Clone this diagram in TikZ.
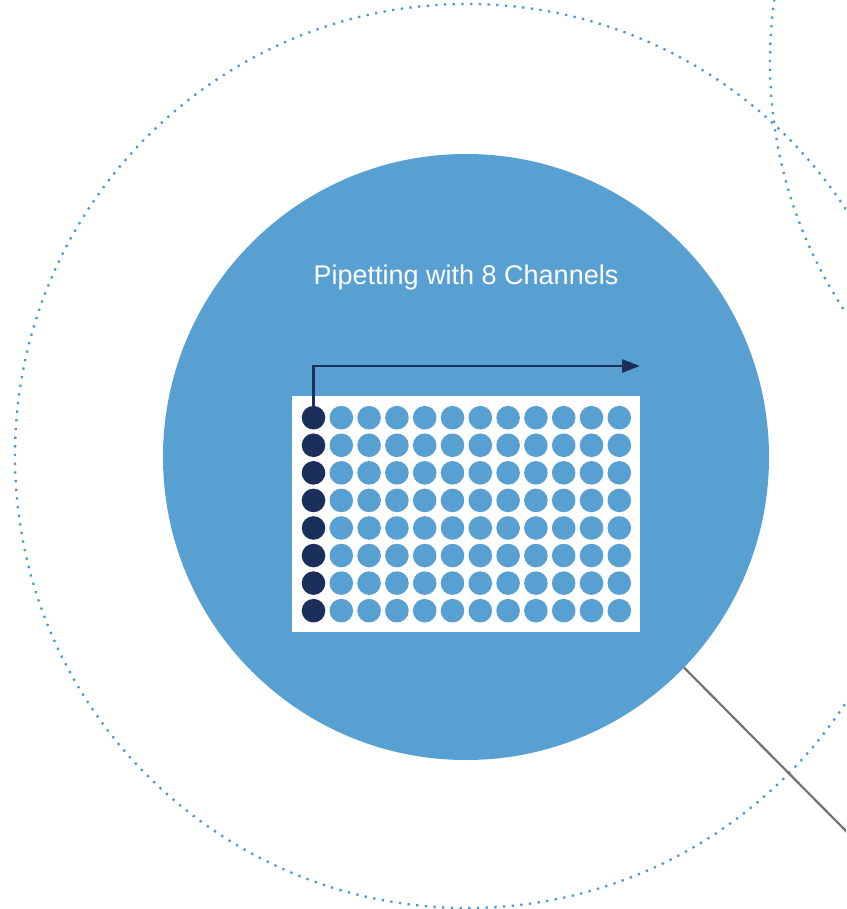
\documentclass[tikz,border=0pt]{standalone}
\usepackage{fontspec}
\setmainfont{Liberation Sans}
\usetikzlibrary{arrows.meta}
\definecolor{discblue}{HTML}{589FD2}
\definecolor{navy}{HTML}{1B2F5C}
\definecolor{dotblue}{HTML}{4C98D6}
\definecolor{linegray}{HTML}{727272}
\tikzset{
  dotring/.style={draw=dotblue, line width=2.3pt, dash pattern=on 2.3pt off 6.4pt},
  disc/.style={circle, fill=discblue, minimum size=606pt, inner sep=0pt},
  plate/.style={fill=white, draw=none},
  well/.style={circle, fill=discblue, minimum size=23.6pt, inner sep=0pt},
  wellon/.style={well, fill=navy},
  pathline/.style={draw=navy, line width=2.7pt, -{Triangle[length=18pt,width=13pt]}},
  leader/.style={draw=linegray, line width=2.2pt},
  title/.style={text=white, font=\fontsize{27}{30}\selectfont}
}
\begin{document}
\begin{tikzpicture}[x=1pt,y=-1pt]
\useasboundingbox (0,0) rectangle (846,909);
\clip (0,0) rectangle (846,909);
\draw[dotring] (467,456) circle[radius=452pt];
\draw[dotring] (1222,62) circle[radius=452pt];
\node[disc] (disc) at (466,457) {};
\node[title] (title) at (466,277.5) {Pipetting with 8 Channels};
\fill[plate] (292,396) rectangle (640,632);
\foreach \r in {1,...,8}{
  \foreach \c in {1,...,12}{
    \pgfmathsetmacro{\xx}{313.5+(\c-1)*27.8}
    \pgfmathsetmacro{\yy}{417.7+(\r-1)*27.57}
    \ifnum\c=1
      \node[wellon] (w-\r-\c) at (\xx,\yy) {};
    \else
      \node[well] (w-\r-\c) at (\xx,\yy) {};
    \fi
  }
}
\coordinate (tip) at (640,366);
\draw[pathline] (w-1-1.north) |- (tip);
\coordinate (leadend) at (848,833);
\draw[leader] (disc.-44.6) -- (leadend);
\end{tikzpicture}
\end{document}
